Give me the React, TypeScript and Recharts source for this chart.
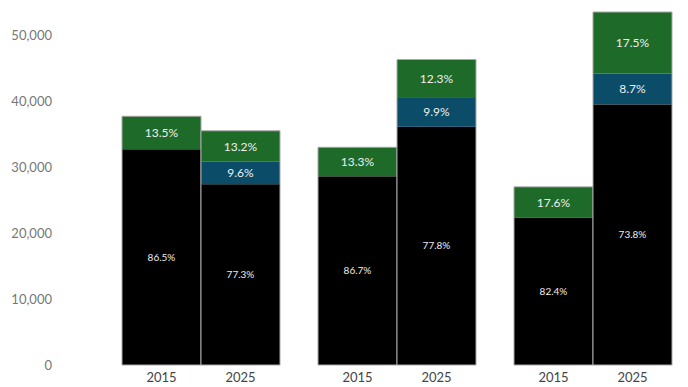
import React from "react";
import { BarChart, Bar, XAxis, YAxis, LabelList } from "recharts";

const groups = ["g1", "g2", "g3"];
const yearLabels = ["2015", "2025"];
const yTicks = [0, 10000, 20000, 30000, 40000, 50000];

// values
const black2015 = [32700, 28600, 22300];
const green2015 = [5000, 4400, 4700];
const black2025 = [27400, 36100, 39500];
const blue2025 = [3400, 4500, 4650];
const green2025 = [4700, 5700, 9350];

const pctBlack2015 = ["86.5%", "86.7%", "82.4%"];
const pctGreen2015 = ["13.5%", "13.3%", "17.6%"];
const pctBlack2025 = ["77.3%", "77.8%", "73.8%"];
const pctBlue2025 = ["9.6%", "9.9%", "8.7%"];
const pctGreen2025 = ["13.2%", "12.3%", "17.5%"];

const data = groups.map((g, i) => ({
  group: g,
  b15: black2015[i],
  g15: green2015[i],
  b25: black2025[i],
  u25: blue2025[i],
  g25: green2025[i],
  pb15: pctBlack2015[i],
  pg15: pctGreen2015[i],
  pb25: pctBlack2025[i],
  pu25: pctBlue2025[i],
  pg25: pctGreen2025[i],
}));

const FONT = "Lato, 'Open Sans', sans-serif";
const EDGE = "#a8a8a8";

const seg = (fill: string, top: boolean, bottom: boolean) => (props: any) => {
  const { x, y, width, height } = props;
  if (!height) return null;
  return (
    <g>
      <rect x={x} y={y} width={width} height={height} fill={fill} />
      <line x1={x} y1={y} x2={x} y2={y + height} stroke={EDGE} strokeWidth={1} />
      <line x1={x + width} y1={y} x2={x + width} y2={y + height} stroke={EDGE} strokeWidth={1} />
      {top && <line x1={x} y1={y} x2={x + width} y2={y} stroke={EDGE} strokeWidth={1} />}
      {bottom && <line x1={x} y1={y + height} x2={x + width} y2={y + height} stroke={EDGE} strokeWidth={1} />}
    </g>
  );
};

const YearTick = (props: any) => {
  const { x, y } = props;
  return (
    <g>
      {yearLabels.map((t, i) => (
        <text key={t} x={x + (i === 0 ? -39.5 : 39.5)} y={y + 17} textAnchor="middle" fontSize={13} fill="#444" fontFamily={FONT}>
          {t}
        </text>
      ))}
    </g>
  );
};

const bigLabel = { fill: "#eeeeee", fontSize: 12, fontFamily: FONT };
const smallLabel = { fill: "#eeeeee", fontSize: 10, fontFamily: FONT };

export default function App() {
  return (
    <div style={{ position: "absolute", left: 0, top: 0, width: 688, height: 387, overflow: "hidden", background: "#fff" }}>
      <BarChart
        width={692}
        height={387}
        data={data}
        margin={{ top: 12, right: 1, bottom: 0, left: 0 }}
        barGap={0}
        barSize={79}
      >
        <XAxis dataKey="group" axisLine={false} tickLine={false} tickSize={0} tickMargin={0} height={22} tick={<YearTick />} interval={0} />
        <YAxis
          width={103}
          domain={[0, "dataMax"]}
          ticks={yTicks}
          axisLine={false}
          tickLine={false}
          tickSize={0}
          tickMargin={51}
          tickFormatter={(v: number) => v.toLocaleString("en-US")}
          tick={{ fill: "#777", fontSize: 13, fontFamily: FONT }}
        />
        <Bar dataKey="b15" stackId="a" shape={seg("#000000", false, true)} isAnimationActive={false}>
          <LabelList dataKey="pb15" position="center" style={smallLabel} />
        </Bar>
        <Bar dataKey="g15" stackId="a" shape={seg("#1e6b29", true, false)} isAnimationActive={false}>
          <LabelList dataKey="pg15" position="center" style={bigLabel} />
        </Bar>
        <Bar dataKey="b25" stackId="b" shape={seg("#000000", false, true)} isAnimationActive={false}>
          <LabelList dataKey="pb25" position="center" style={smallLabel} />
        </Bar>
        <Bar dataKey="u25" stackId="b" shape={seg("#0b4d69", false, false)} isAnimationActive={false}>
          <LabelList dataKey="pu25" position="center" style={bigLabel} />
        </Bar>
        <Bar dataKey="g25" stackId="b" shape={seg("#1e6b29", true, false)} isAnimationActive={false}>
          <LabelList dataKey="pg25" position="center" style={bigLabel} />
        </Bar>
      </BarChart>
    </div>
  );
}
